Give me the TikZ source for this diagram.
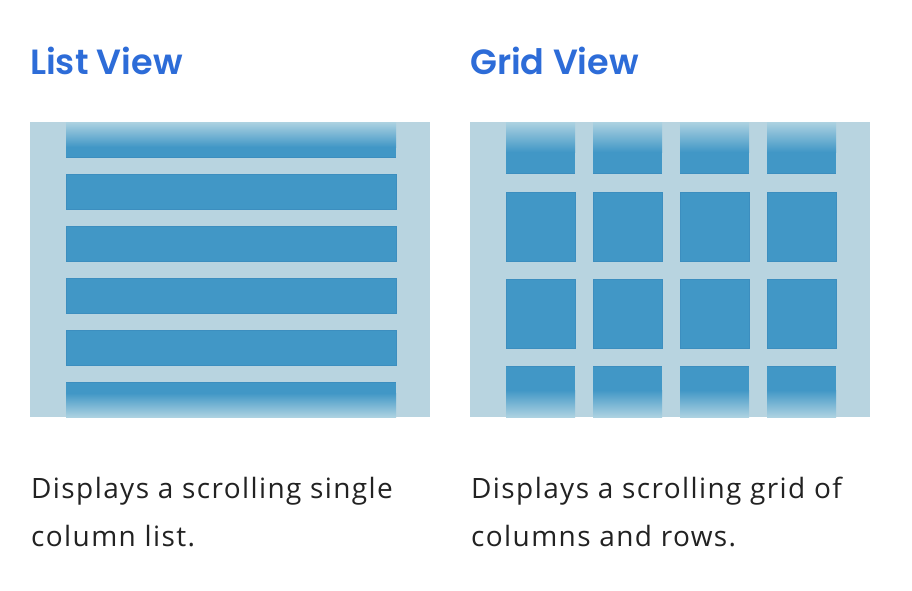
\documentclass[tikz,border=0pt]{standalone}
\usepackage{fontspec}
\setmainfont{Open Sans}[LetterSpace=5]
\newfontfamily\headfont{Poppins}[UprightFont=* SemiBold]
\definecolor{panelbg}{HTML}{B8D4E0}
\definecolor{tileblue}{HTML}{4197C6}
\definecolor{tileedge}{HTML}{3C8EBF}
\definecolor{fadetop}{HTML}{ADD2E1}
\definecolor{headblue}{HTML}{2D6CD8}
\definecolor{bodytext}{HTML}{222222}
\tikzset{
  panel/.style={fill=panelbg},
  tile/.style={fill=tileblue, draw=tileedge, line width=0.8pt},
  heading/.style={anchor=base west, inner sep=0pt, text=headblue, font=\headfont\fontsize{35}{42}\selectfont},
  caption/.style={anchor=base west, inner sep=0pt, text=bodytext, align=left,
    font=\fontsize{28}{48}\selectfont},
}
\begin{document}
\begin{tikzpicture}[x=1pt, y=-1pt]
\useasboundingbox[fill=white] (0,0) rectangle (912,590);

% ---------- list view ----------
\node[heading] (listtitle) at (30,74) {List View};
\fill[panel] (30,122) rectangle (430,417);
% first row, cut off at the top edge and fading in
\fill[tileblue] (66,122) rectangle (396,157);
\shade[top color=fadetop, bottom color=tileblue] (66,122) rectangle (396,147);
\draw[tileedge, line width=0.8pt] (66,157) -- (396,157);
% full rows
\foreach \y in {174,226,278,330}
  \draw[tile] (66,\y) rectangle (396,\y+35);
% last row, fading out at the bottom edge
\fill[tileblue] (66,382) rectangle (396,417);
\shade[top color=tileblue, bottom color=fadetop] (66,393) rectangle (396,417);
\draw[tileedge, line width=0.8pt] (66,382) -- (396,382);

% the base anchor of a two-line node sits on its last line
\node[caption] (listtext) at (31,546) {Displays a scrolling single\\column list.};

% ---------- grid view ----------
\node[heading] (gridtitle) at (470,74) {Grid View};
\fill[panel] (470,122) rectangle (870,417);
\foreach \x in {506,593,680,767} {
  % top row fading in
  \fill[tileblue] (\x,122) rectangle (\x+69,173);
  \shade[top color=fadetop, bottom color=tileblue] (\x,122) rectangle (\x+69,152);
  \draw[tileedge, line width=0.8pt] (\x,173) -- (\x+69,173);
  % two full rows
  \draw[tile] (\x,192) rectangle (\x+69,261);
  \draw[tile] (\x,279) rectangle (\x+69,348);
  % bottom row fading out
  \fill[tileblue] (\x,366) rectangle (\x+69,417);
  \shade[top color=tileblue, bottom color=fadetop] (\x,390) rectangle (\x+69,417);
  \draw[tileedge, line width=0.8pt] (\x,366) -- (\x+69,366);
}

\node[caption] (gridtext) at (471,546) {Displays a scrolling grid of\\columns and rows.};
\end{tikzpicture}
\end{document}
